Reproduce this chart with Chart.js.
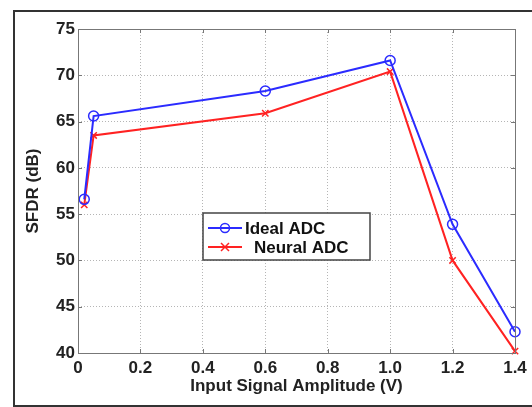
<html>
  <head>
    <script src="https://cdn.jsdelivr.net/npm/chart.js"></script>
    <style>
      body { margin: 0; background: #ffffff; }
      canvas { display: block; }
    </style>
  </head>
  <body>
    <canvas id="graph-sfdr" width="532" height="407"></canvas>
    <script>
      // values
      var amplitude = [0.02, 0.05, 0.6, 1.0, 1.2, 1.4];
      var idealSfdr = [56.6, 65.6, 68.3, 71.6, 53.9, 42.3];
      var neuralSfdr = [56.0, 63.5, 65.9, 70.4, 50.0, 40.2];
      var seriesNames = ["Ideal ADC", "Neural ADC"];
      var xTicks = [0, 0.2, 0.4, 0.6, 0.8, 1, 1.2, 1.4];
      var yTicks = [40, 45, 50, 55, 60, 65, 70, 75];

      var blue = "#2b2bff";
      var red = "#ff2222";
      var font = "Liberation Sans";

      function toPoints(xs, ys) {
        var out = [];
        for (var i = 0; i < xs.length; i++) {
          out.push({ x: xs[i], y: ys[i] });
        }
        return out;
      }

      function setTicks(list) {
        return function (scale) {
          scale.ticks = list.map(function (v) { return { value: v }; });
        };
      }

      // outer frame, plot box, inward tick marks and the boxed legend
      var matlabLook = {
        id: "matlabLook",
        beforeDraw: function (chart) {
          var ctx = chart.ctx;
          ctx.save();
          ctx.fillStyle = "#ffffff";
          ctx.fillRect(0, 0, chart.width, chart.height);
          ctx.strokeStyle = "#333333";
          ctx.lineWidth = 2;
          ctx.strokeRect(14, 11, 540, 395);
          ctx.restore();
        },
        afterDatasetsDraw: function (chart) {
          var ctx = chart.ctx;
          var a = chart.chartArea;
          var xs = chart.scales.x;
          var ys = chart.scales.y;
          ctx.save();
          ctx.strokeStyle = "#777777";
          ctx.lineWidth = 1;
          ctx.strokeRect(a.left + 0.5, a.top + 0.5, a.right - a.left, a.bottom - a.top);
          ctx.beginPath();
          xTicks.forEach(function (v) {
            var px = Math.round(xs.getPixelForValue(v)) + 0.5;
            ctx.moveTo(px, a.bottom); ctx.lineTo(px, a.bottom - 4);
            ctx.moveTo(px, a.top); ctx.lineTo(px, a.top + 4);
          });
          yTicks.forEach(function (v) {
            var py = Math.round(ys.getPixelForValue(v)) + 0.5;
            ctx.moveTo(a.left, py); ctx.lineTo(a.left + 4, py);
            ctx.moveTo(a.right, py); ctx.lineTo(a.right - 4, py);
          });
          ctx.stroke();

          // legend box
          var bx = 203, by = 213, bw = 167, bh = 47;
          ctx.fillStyle = "#ffffff";
          ctx.fillRect(bx, by, bw, bh);
          ctx.strokeStyle = "#444444";
          ctx.lineWidth = 1.5;
          ctx.strokeRect(bx, by, bw, bh);

          var rows = [
            { y: 228, color: blue, mark: "o", textX: 245 },
            { y: 247, color: red, mark: "x", textX: 254 }
          ];
          ctx.font = "bold 17px '" + font + "'";
          ctx.textBaseline = "middle";
          rows.forEach(function (r, i) {
            ctx.strokeStyle = r.color;
            ctx.lineWidth = 2;
            ctx.beginPath();
            ctx.moveTo(208, r.y); ctx.lineTo(242, r.y);
            ctx.stroke();
            ctx.lineWidth = 1.5;
            ctx.beginPath();
            if (r.mark === "o") {
              ctx.arc(225, r.y, 4.5, 0, Math.PI * 2);
            } else {
              ctx.moveTo(221, r.y - 4); ctx.lineTo(229, r.y + 4);
              ctx.moveTo(229, r.y - 4); ctx.lineTo(221, r.y + 4);
            }
            ctx.stroke();
            ctx.fillStyle = "#111111";
            ctx.fillText(seriesNames[i], r.textX, r.y + 1);
          });
          ctx.restore();
        }
      };

      var ctx = document.getElementById("graph-sfdr").getContext("2d");
      var graph = new Chart(ctx, {
        type: "line",
        data: {
          datasets: [{
            label: seriesNames[0],
            data: toPoints(amplitude, idealSfdr),
            borderColor: blue,
            backgroundColor: "rgba(0,0,0,0)",
            borderWidth: 2,
            pointStyle: "circle",
            pointRadius: 5,
            pointBorderWidth: 1.5,
            tension: 0,
            clip: false
          }, {
            label: seriesNames[1],
            data: toPoints(amplitude, neuralSfdr),
            borderColor: red,
            backgroundColor: "rgba(0,0,0,0)",
            borderWidth: 2,
            pointStyle: "crossRot",
            pointRadius: 4.5,
            pointBorderWidth: 1.5,
            tension: 0,
            clip: false
          }]
        },
        options: {
          responsive: false,
          animation: false,
          devicePixelRatio: 1,
          layout: { padding: { left: 0, right: 17, top: 29, bottom: 0 } },
          plugins: {
            legend: { display: false },
            tooltip: { enabled: false }
          },
          scales: {
            x: {
              type: "linear",
              min: 0,
              max: 1.4,
              afterBuildTicks: setTicks(xTicks),
              afterFit: function (scale) { scale.height = 54; },
              grid: { color: "#b5b5b5", drawTicks: false },
              border: { display: false, dash: [1, 2] },
              ticks: {
                padding: 5,
                color: "#222222",
                font: { family: font, size: 17, weight: "bold" }
              },
              title: {
                display: true,
                text: "Input Signal Amplitude (V)",
                color: "#222222",
                padding: { top: 0, bottom: 10 },
                font: { family: font, size: 17, weight: "bold" }
              }
            },
            y: {
              min: 40,
              max: 75,
              afterBuildTicks: setTicks(yTicks),
              afterFit: function (scale) { scale.width = 78; },
              grid: { color: "#b5b5b5", drawTicks: false },
              border: { display: false, dash: [1, 2] },
              ticks: {
                padding: 3,
                color: "#222222",
                font: { family: font, size: 17, weight: "bold" }
              },
              title: {
                display: true,
                text: "SFDR (dB)",
                color: "#222222",
                padding: { top: 23, bottom: 0 },
                font: { family: font, size: 17, weight: "bold" }
              }
            }
          }
        },
        plugins: [matlabLook]
      });
    </script>
  </body>
</html>
